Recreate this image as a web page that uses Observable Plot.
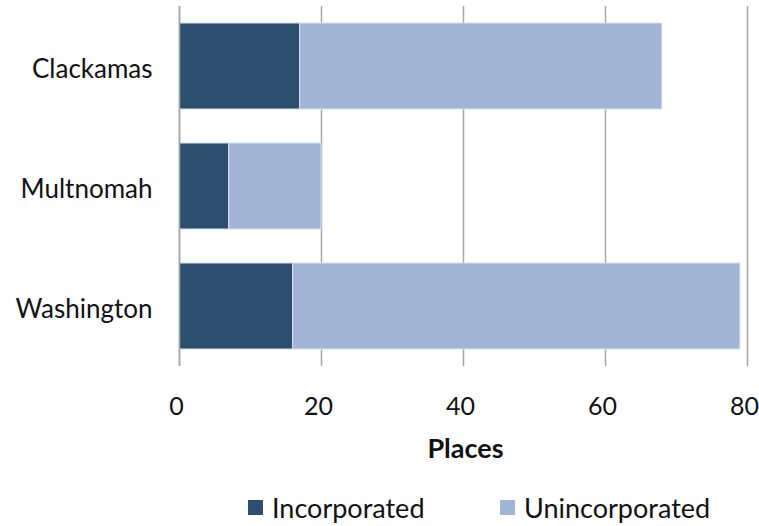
<!DOCTYPE html>
<html>
<head>
<meta charset="utf-8">
<script src="https://cdn.jsdelivr.net/npm/d3@7"></script>
<script src="https://cdn.jsdelivr.net/npm/@observablehq/plot@0.6"></script>
<style>
  html, body { margin: 0; padding: 0; background: #fff; }
  body { width: 759px; height: 526px; position: relative; overflow: hidden; font-family: Lato, sans-serif; }
  #chart { position: absolute; left: 0; top: 0; }
  #legend { position: absolute; top: 491px; left: 0; width: 759px; height: 32px; font-size: 27px; color: #111; }
  .item { position: absolute; top: 0; display: flex; align-items: center; }
  .sw { width: 15px; height: 15px; margin-right: 9px; }
</style>
</head>
<body>
<div id="chart"></div>
<div id="legend"></div>
<script>
const counties = ["Clackamas", "Multnomah", "Washington"];
const seriesNames = ["Incorporated", "Unincorporated"];
const incorporated = [17, 7, 16];
const unincorporated = [51, 13, 63];
const colors = ["#2e4e6f", "#a3b5d7"];
const xTicks = [0, 20, 40, 60, 80];

const rows = [];
counties.forEach((c, i) => {
  rows.push({county: c, type: seriesNames[0], value: incorporated[i]});
  rows.push({county: c, type: seriesNames[1], value: unincorporated[i]});
});

const plot = Plot.plot({
  width: 759,
  height: 470,
  marginLeft: 179,
  marginRight: 12,
  marginTop: 6,
  marginBottom: 104,
  style: {fontFamily: "Lato, sans-serif", fontSize: "25px", color: "#111", background: "#fff"},
  x: {domain: [0, 80], ticks: xTicks, label: "Places"},
  y: {domain: counties, paddingInner: 0.28, paddingOuter: 0.14, label: null},
  color: {domain: seriesNames, range: colors},
  marks: [
    Plot.ruleX(xTicks, {stroke: "#a6a6a6", strokeWidth: 1.5, strokeOpacity: 1}),
    Plot.barX(rows, {y: "county", x: "value", fill: "type", stroke: "#d6deee", strokeWidth: 1, inset: 0}),
    Plot.ruleX(xTicks, {x: d => d, stroke: "#a6a6a6", strokeWidth: 1.5, filter: d => d === 0}),
    Plot.axisY({tickSize: 0, tickPadding: 27, dy: 3, fontSize: 26, label: null}),
    Plot.axisX(xTicks, {tickSize: 0, tickPadding: 31, dx: -3, fontSize: 25, label: null}),
    Plot.text(["Places"], {frameAnchor: "bottom", dx: 2, dy: 91, fontWeight: "bold", fontSize: 27})
  ]
});
document.getElementById("chart").appendChild(plot);

const leg = d3.select("#legend");
const lefts = [248, 500];
seriesNames.forEach((n, i) => {
  const it = leg.append("div").attr("class", "item").style("left", lefts[i] + "px");
  it.append("div").attr("class", "sw").style("background", colors[i]);
  it.append("span").text(n);
});
</script>
</body>
</html>
